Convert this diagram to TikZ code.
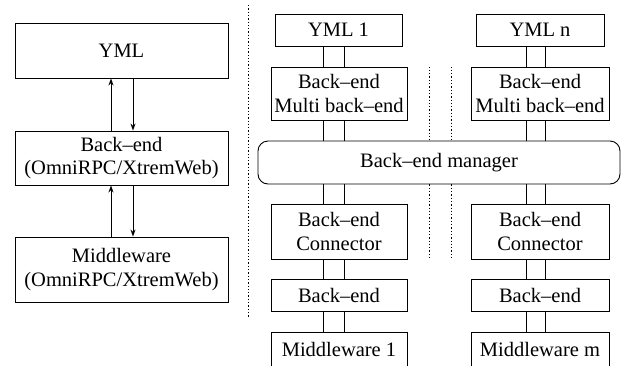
\documentclass[tikz,border=0pt]{standalone}
\usepackage{fontspec}
\setmainfont{Liberation Serif}
\usetikzlibrary{arrows.meta}
\begin{document}
\begin{tikzpicture}[x=1pt,y=-1pt,
  every node/.style={font=\fontsize{20.5}{23.5}\selectfont},
  box/.style={draw,line width=0.9pt,inner sep=0pt,align=center,minimum width=#1},
  link/.style={line width=0.9pt},
  arr/.style={line width=0.9pt,-{Stealth[length=7pt,width=5pt]}},
  dots/.style={line width=1pt,dash pattern=on 1.3pt off 2pt}]
\useasboundingbox (0,0) rectangle (621,365);
% left part
\node[box=213pt,minimum height=55pt] (yml) at (121.5,50.5) {YML};
\node[box=213pt,minimum height=54pt] (be) at (121.5,158) {Back\textendash end\\(OmniRPC/XtremWeb)};
\node[box=213pt,minimum height=65pt] (mw) at (121.5,269.5) {Middleware\\(OmniRPC/XtremWeb)};
\coordinate (ua) at (111,0);
\coordinate (da) at (133,0);
\draw[arr] (be.north -| ua) -- (yml.south -| ua);
\draw[arr] (yml.south -| da) -- (be.north -| da);
\draw[arr] (mw.north -| ua) -- (be.south -| ua);
\draw[arr] (be.south -| da) -- (mw.north -| da);
% separator
\coordinate (s1) at (248,5);
\coordinate (s2) at (248,318);
\draw[dots] (s1) -- (s2);
% right part column 1
\node[box=127pt,minimum height=32pt] (y1) at (338.5,30) {YML 1};
\node[box=136pt,minimum height=53pt] (m1) at (339,93.5) {Back\textendash end\\Multi back\textendash end};
\node[box=136pt,minimum height=55pt] (c1) at (339,231.5) {Back\textendash end\\Connector};
\node[box=136pt,minimum height=32pt] (b1) at (339,295) {Back\textendash end};
\node[box=136pt,minimum height=35pt] (w1) at (339,349.5) {Middleware 1};
% column n
\node[box=128pt,minimum height=32pt] (yn) at (540,30) {YML n};
\node[box=138pt,minimum height=53pt] (mn) at (540,93.5) {Back\textendash end\\Multi back\textendash end};
\node[box=138pt,minimum height=55pt] (cn) at (540,231.5) {Back\textendash end\\Connector};
\node[box=138pt,minimum height=32pt] (bn) at (540,295) {Back\textendash end};
\node[box=138pt,minimum height=35pt] (wn) at (540,349.5) {Middleware m};
% manager
\node[draw,line width=0.9pt,rounded corners=10pt,minimum width=362pt,minimum height=43pt,inner sep=0pt] (mgr) at (439,162.5) {Back\textendash end manager};
% links
\foreach \xx in {323,344} {
  \coordinate (p) at (\xx,0);
  \draw[link] (y1.south -| p) -- (m1.north -| p);
  \draw[link] (m1.south -| p) -- (mgr.north -| p);
  \draw[link] (mgr.south -| p) -- (c1.north -| p);
  \draw[link] (c1.south -| p) -- (b1.north -| p);
  \draw[link] (b1.south -| p) -- (w1.north -| p);
}
\foreach \xx in {526,545} {
  \coordinate (p) at (\xx,0);
  \draw[link] (yn.south -| p) -- (mn.north -| p);
  \draw[link] (mn.south -| p) -- (mgr.north -| p);
  \draw[link] (mgr.south -| p) -- (cn.north -| p);
  \draw[link] (cn.south -| p) -- (bn.north -| p);
  \draw[link] (bn.south -| p) -- (wn.north -| p);
}
% dotted continuation marks
\foreach \xx in {429,451} {
  \coordinate (q) at (\xx,0);
  \draw[dots] (m1.north -| q) -- (mgr.north -| q);
  \draw[dots] (mgr.south -| q) -- (c1.south -| q);
}
\end{tikzpicture}
\end{document}
